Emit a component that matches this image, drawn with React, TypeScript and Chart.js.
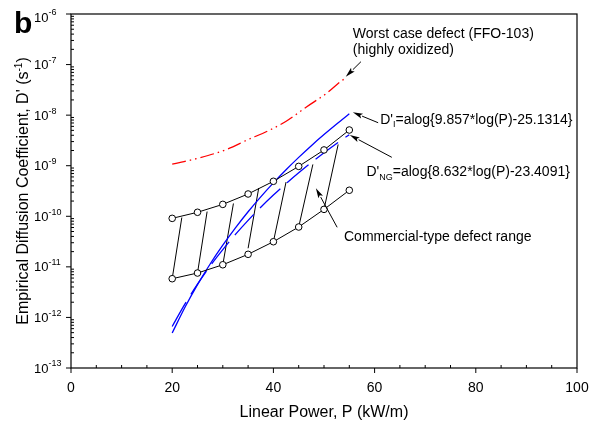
import React, { useEffect, useRef } from "react";
import { Chart, registerables } from "chart.js";

Chart.register(...registerables);

// ---- data ----
const powerPoints = [20, 25, 30, 35, 40, 45, 50, 55];
const upperBound = [9.1e-11, 1.2e-10, 1.72e-10, 2.76e-10, 4.92e-10, 9.7e-10, 2.05e-9, 5.08e-9];
const lowerBound = [5.83e-12, 7.55e-12, 1.1e-11, 1.77e-11, 3.14e-11, 6.14e-11, 1.37e-10, 3.27e-10];

const hatchStartP = [20, 25, 30, 35, 40, 45, 50];
const hatchStartD = [5.83e-12, 7.55e-12, 1.1e-11, 2.33e-11, 3.14e-11, 6.14e-11, 1.37e-10];
const hatchEndP = [21.9, 26.9, 32.1, 37.1, 42.5, 47.8, 52.8];
const hatchEndD = [9.46e-11, 1.24e-10, 1.79e-10, 3.62e-10, 4.76e-10, 1.06e-9, 2.63e-9];

const fitPower = [20, 22.5, 25, 27.5, 30, 32.5, 35, 37.5, 40, 42.5, 45, 47.5, 50, 52.5, 55];
const fitI = [4.93e-13, 1.57e-12, 4.45e-12, 1.14e-11, 2.68e-11, 5.9e-11, 1.23e-10, 2.42e-10, 4.57e-10, 8.31e-10, 1.46e-9, 2.49e-9, 4.12e-9, 6.67e-9, 1.06e-8];
const fitNG = [6.63e-13, 1.83e-12, 4.55e-12, 1.04e-11, 2.19e-11, 4.38e-11, 8.31e-11, 1.51e-10, 2.63e-10, 4.44e-10, 7.27e-10, 1.16e-9, 1.8e-9, 2.75e-9, 4.11e-9];

const worstP = [20, 25.5, 30.8, 34.8, 39.3, 42.6, 46.6, 50.5, 53.5, 54.5];
const worstD = [1.07e-9, 1.44e-9, 2.11e-9, 3.22e-9, 5.08e-9, 7.66e-9, 1.47e-8, 2.7e-8, 4.8e-8, 5.55e-8];

const xTickValues = [0, 20, 40, 60, 80, 100];
const yTickExponents = [-6, -7, -8, -9, -10, -11, -12, -13];

const FONT = "'Liberation Sans', Arial, Helvetica, sans-serif";

function drawArrow(ctx: CanvasRenderingContext2D, x0: number, y0: number, x1: number, y1: number) {
  const ang = Math.atan2(y1 - y0, x1 - x0);
  const len = 10;
  const hw = 2.6;
  const bx = x1 - len * Math.cos(ang);
  const by = y1 - len * Math.sin(ang);
  ctx.beginPath();
  ctx.moveTo(x0, y0);
  ctx.lineTo(bx, by);
  ctx.stroke();
  ctx.beginPath();
  ctx.moveTo(x1, y1);
  ctx.lineTo(bx - hw * Math.sin(ang), by + hw * Math.cos(ang));
  ctx.lineTo(bx + 2 * Math.cos(ang), by + 2 * Math.sin(ang));
  ctx.lineTo(bx + hw * Math.sin(ang), by - hw * Math.cos(ang));
  ctx.closePath();
  ctx.fill();
}

function drawRich(ctx: CanvasRenderingContext2D, x: number, y: number, parts: [string, number, number][]) {
  // parts: [text, fontSize, baselineOffset]
  let cx = x;
  for (const [t, size, dy] of parts) {
    ctx.font = `${size}px ${FONT}`;
    ctx.fillText(t, cx, y + dy);
    cx += ctx.measureText(t).width;
  }
  return cx - x;
}

const decorPlugin = {
  id: "decor",
  afterDraw(chart: any) {
    const { ctx, chartArea: a, scales } = chart;
    const xs = scales.x;
    const ys = scales.y;
    const at = (p: number, logD: number) => [xs.getPixelForValue(p), ys.getPixelForValue(Math.pow(10, logD))];
    ctx.save();
    ctx.strokeStyle = "#000";
    ctx.fillStyle = "#000";
    ctx.lineWidth = 1.2;
    ctx.strokeRect(a.left, a.top, a.right - a.left, a.bottom - a.top);

    // y ticks
    ctx.lineWidth = 1;
    for (let e = -13; e <= -6; e++) {
      const py = ys.getPixelForValue(Math.pow(10, e));
      ctx.beginPath();
      ctx.moveTo(a.left - 5, py);
      ctx.lineTo(a.left, py);
      ctx.stroke();
      if (e < -6) {
        for (let m = 2; m <= 9; m++) {
          const my = ys.getPixelForValue(m * Math.pow(10, e));
          ctx.beginPath();
          ctx.moveTo(a.left, my);
          ctx.lineTo(a.left + 3, my);
          ctx.stroke();
        }
      }
    }
    // x ticks
    for (let v = 0; v <= 100; v += 5) {
      const px = xs.getPixelForValue(v);
      ctx.beginPath();
      if (v % 20 === 0) {
        ctx.moveTo(px, a.bottom);
        ctx.lineTo(px, a.bottom + 5);
      } else {
        ctx.moveTo(px, a.bottom);
        ctx.lineTo(px, a.bottom - 3);
      }
      ctx.stroke();
    }

    // y tick labels
    ctx.textBaseline = "middle";
    ctx.textAlign = "left";
    for (const e of yTickExponents) {
      let py = ys.getPixelForValue(Math.pow(10, e));
      py = Math.max(py, 17);
      ctx.font = `13px ${FONT}`;
      ctx.fillText("10", 34, py + 1);
      const w = ctx.measureText("10").width;
      ctx.font = `9px ${FONT}`;
      ctx.fillText(String(e), 34 + w, py - 4);
    }
    // x tick labels
    ctx.textAlign = "center";
    ctx.font = `14px ${FONT}`;
    for (const v of xTickValues) {
      ctx.fillText(String(v), xs.getPixelForValue(v), a.bottom + 20);
    }
    // x title
    ctx.font = `16px ${FONT}`;
    ctx.fillText("Linear Power, P (kW/m)", (a.left + a.right) / 2, 413);

    // y title (rotated, with superscript)
    ctx.save();
    ctx.translate(22, 191);
    ctx.rotate(-Math.PI / 2);
    ctx.textAlign = "left";
    ctx.textBaseline = "alphabetic";
    const yParts: [string, number, number][] = [
      ["Empirical Diffusion Coefficient, D' (s", 16, 0],
      ["-1", 10, -6],
      [")", 16, 0],
    ];
    let total = 0;
    for (const [t, s] of yParts) {
      ctx.font = `${s}px ${FONT}`;
      total += ctx.measureText(t).width;
    }
    drawRich(ctx, -total / 2, 6, yParts);
    ctx.restore();

    // panel label
    ctx.textAlign = "left";
    ctx.textBaseline = "alphabetic";
    ctx.font = `bold 30px ${FONT}`;
    ctx.fillText("b", 14, 33);

    // annotations
    ctx.font = `14px ${FONT}`;
    let [tx, ty] = at(55.7, -6.475);
    ctx.fillText("Worst case defect (FFO-103)", tx, ty);
    [tx, ty] = at(55.7, -6.79);
    ctx.fillText("(highly oxidized)", tx, ty);

    [tx, ty] = at(61.1, -8.175);
    drawRich(ctx, tx, ty, [["D'", 14, 0], ["I", 9, 3], ["=alog{9.857*log(P)-25.1314}", 14, 0]]);
    [tx, ty] = at(58.4, -9.203);
    drawRich(ctx, tx, ty, [["D'", 14, 0], ["NG", 9, 4], ["=alog{8.632*log(P)-23.4091}", 14, 0]]);
    [tx, ty] = at(53.95, -10.489);
    ctx.font = `14px ${FONT}`;
    ctx.fillText("Commercial-type defect range", tx, ty);

    ctx.lineWidth = 1;
    const arrows: [number, number, number, number][] = [
      [57.3, -6.943, 54.3, -7.24],
      [60.7, -8.15, 55.7, -7.944],
      [63.4, -8.834, 55.1, -8.393],
      [52.6, -10.218, 48.4, -9.447],
    ];
    for (const [p0, l0, p1, l1] of arrows) {
      const [x0, y0] = at(p0, l0);
      const [x1, y1] = at(p1, l1);
      drawArrow(ctx, x0, y0, x1, y1);
    }
    ctx.restore();
  },
};

export default function App() {
  const ref = useRef<HTMLCanvasElement | null>(null);
  useEffect(() => {
    document.body.style.margin = "0";
    const canvas = ref.current!;
    const pts = (xs: number[], ys: number[]) => xs.map((x, i) => ({ x, y: ys[i] }));
    const datasets: any[] = [
      {
        label: "upper",
        data: pts(powerPoints, upperBound),
        borderColor: "#000",
        borderWidth: 1,
        pointRadius: 3.3,
        pointBackgroundColor: "#fff",
        pointBorderColor: "#000",
        pointBorderWidth: 1,
        order: 0,
      },
      {
        label: "lower",
        data: pts(powerPoints, lowerBound),
        borderColor: "#000",
        borderWidth: 1,
        pointRadius: 3.3,
        pointBackgroundColor: "#fff",
        pointBorderColor: "#000",
        pointBorderWidth: 1,
        order: 0,
      },
      {
        label: "D'I",
        data: pts(fitPower, fitI),
        borderColor: "#0000ff",
        borderWidth: 1.3,
        pointRadius: 0,
        cubicInterpolationMode: "monotone",
        order: 2,
      },
      {
        label: "D'NG",
        data: pts(fitPower, fitNG),
        borderColor: "#0000ff",
        borderWidth: 1.3,
        borderDash: [28, 9],
        pointRadius: 0,
        cubicInterpolationMode: "monotone",
        order: 2,
      },
      {
        label: "worst",
        data: pts(worstP, worstD),
        borderColor: "#ff0000",
        borderWidth: 1.3,
        borderDash: [14, 4, 1.5, 4, 1.5, 4],
        pointRadius: 0,
        cubicInterpolationMode: "monotone",
        order: 2,
      },
    ];
    hatchStartP.forEach((p, i) => {
      datasets.push({
        label: "hatch" + i,
        data: [
          { x: p, y: hatchStartD[i] },
          { x: hatchEndP[i], y: hatchEndD[i] },
        ],
        borderColor: "#000",
        borderWidth: 1,
        pointRadius: 0,
        order: 3,
      });
    });

    const chart = new Chart(canvas, {
      type: "line",
      data: { datasets },
      options: {
        animation: false,
        responsive: false,
        maintainAspectRatio: false,
        layout: { padding: { left: 71, right: 19, top: 14, bottom: 53 } },
        plugins: { legend: { display: false }, tooltip: { enabled: false } },
        scales: {
          x: { type: "linear", min: 0, max: 100, display: false },
          y: { type: "logarithmic", min: 1e-13, max: 1e-6, display: false },
        },
      },
      plugins: [decorPlugin],
    });
    return () => chart.destroy();
  }, []);
  return <canvas ref={ref} width={596} height={421} style={{ display: "block" }} />;
}
